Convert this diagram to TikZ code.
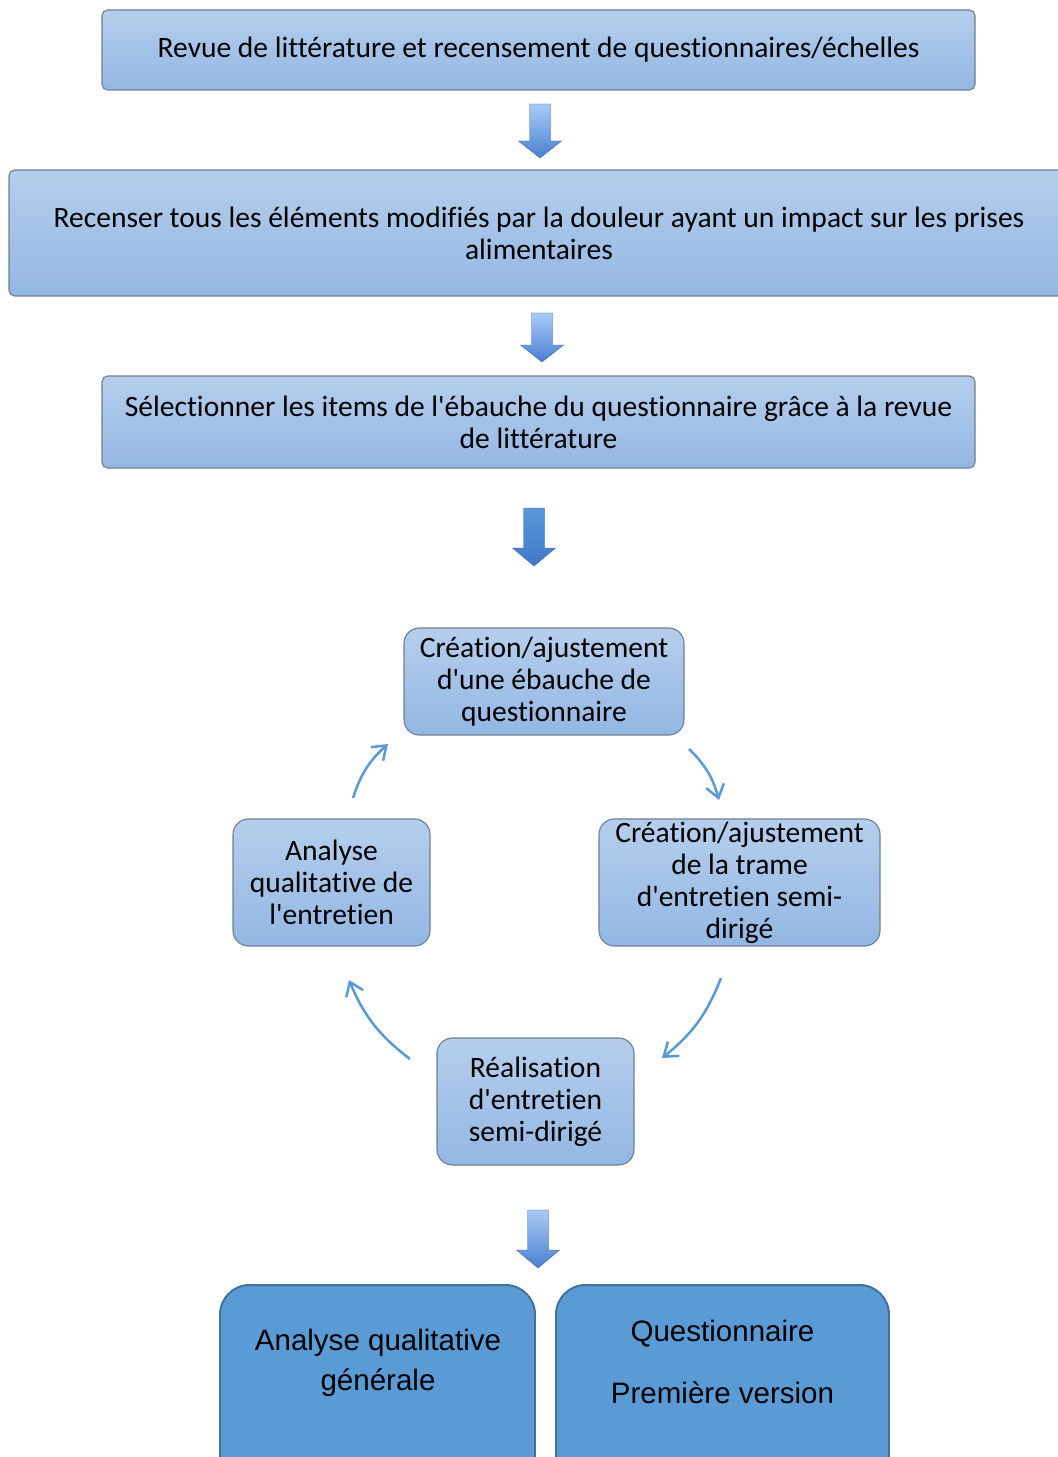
\documentclass[tikz,border=0pt]{standalone}
\usepackage{fontspec}
\setmainfont{Carlito}[Ligatures=NoCommon]
\newfontfamily\arialf{Liberation Sans}
\usepackage{tikz}
\usetikzlibrary{arrows.meta}

\newcommand{\apos}{\textquotesingle}

\definecolor{boxtop}{HTML}{B5CEEC}
\definecolor{boxbot}{HTML}{93B7E3}
\definecolor{boxline}{HTML}{6E7F96}
\definecolor{arrtop}{HTML}{A8CBF7}
\definecolor{arrbot}{HTML}{4A80D0}
\definecolor{arrdtop}{HTML}{5C96DB}
\definecolor{arrdbot}{HTML}{3F78C8}
\definecolor{cycblue}{HTML}{5B9BD5}
\definecolor{bigline}{HTML}{41719C}

\begin{document}
\begin{tikzpicture}[x=0.025cm, y=-0.025cm,
    etape/.style={draw=boxline, line width=0.8pt, top color=boxtop, bottom color=boxbot,
        rounded corners=4pt, align=center, inner sep=2pt,
        font=\fontsize{21}{22.7}\selectfont},
    cycle/.style={etape, rounded corners=11pt},
    bloc/.style={draw=arrbot!80!black, line width=0.3pt},
    fleche/.style={draw=cycblue, line width=1.8pt, -{Straight Barb[length=9pt,width=13pt]}},
    grande/.style={draw=bigline, line width=1.4pt, fill=cycblue, rounded corners=21pt},
    grtexte/.style={align=center, font=\arialf\fontsize{21}{28.5}\selectfont}]
    % FULL
    \useasboundingbox (0,0) rectangle (1057,1457);

    % ETAPES DU HAUT
    \node[etape, minimum width=873*0.025cm, minimum height=80*0.025cm] (revue) at (538.5,50)
        {Revue de littérature et recensement de questionnaires/échelles};
    \node[etape, minimum width=1060*0.025cm, minimum height=126*0.025cm] (recenser) at (539,233)
        {Recenser tous les éléments modifiés par la douleur ayant un impact sur les prises\\alimentaires};
    \node[etape, minimum width=873*0.025cm, minimum height=92*0.025cm] (selection) at (538.5,422)
        {Sélectionner les items de l\apos ébauche du questionnaire grâce à la revue\\de littérature};

    % FLECHES BLOC
    \foreach \cx/\ya/\yh/\yb/\ct/\cb in {540/104/141/158/arrtop/arrbot, 542/313/345/362/arrtop/arrbot,
        534/508/548/566/arrdtop/arrdbot, 538/1210/1250/1268/arrtop/arrbot} {
        \draw[bloc, top color=\ct, bottom color=\cb] ({\cx-10.5},\ya) -- ({\cx+10.5},\ya) -- ({\cx+10.5},\yh)
            -- ({\cx+21.5},\yh) -- (\cx,\yb) -- ({\cx-21.5},\yh) -- ({\cx-10.5},\yh) -- cycle;
    }

    % CYCLE
    \node[cycle, minimum width=280*0.025cm, minimum height=107*0.025cm] (ebauche) at (544,681.5)
        {Création/ajustement\\d\apos une ébauche de\\questionnaire};
    \node[cycle, minimum width=281*0.025cm, minimum height=127*0.025cm] (trame) at (739.5,882.5)
        {Création/ajustement\\de la trame\\d\apos entretien semi-\\dirigé};
    \node[cycle, minimum width=197*0.025cm, minimum height=127*0.025cm] (analyse) at (331.5,882.5)
        {Analyse\\qualitative de\\l\apos entretien};
    \node[cycle, minimum width=197*0.025cm, minimum height=127*0.025cm] (realisation) at (535.5,1101.5)
        {Réalisation\\d\apos entretien\\semi-dirigé};

    % fleches du cycle
    \coordinate (a1) at (353,798);  \coordinate (b1) at (388,744);
    \coordinate (a2) at (689,749);  \coordinate (b2) at (719,800);
    \coordinate (a3) at (721,978);  \coordinate (b3) at (662,1058);
    \coordinate (a4) at (410,1059); \coordinate (b4) at (349,980);
    \draw[fleche] (a1) to[bend left=15] (b1);
    \draw[fleche] (a2) to[bend left=15] (b2);
    \draw[fleche] (a3) to[bend left=15] (b3);
    \draw[fleche] (a4) to[bend left=15] (b4);

    % RESULTATS
    \node[grande, minimum width=315*0.025cm, minimum height=200*0.025cm] (generale) at (377.5,1385) {};
    \node[grande, minimum width=333*0.025cm, minimum height=200*0.025cm] (version) at (722.5,1385) {};
    \node[grtexte] (generaletxt) at (378,1363) {Analyse qualitative\\générale};
    \node[grtexte] (versiontxt) at (722.5,1362) {Questionnaire\\[16pt]Première version};

\end{tikzpicture}
\end{document}
